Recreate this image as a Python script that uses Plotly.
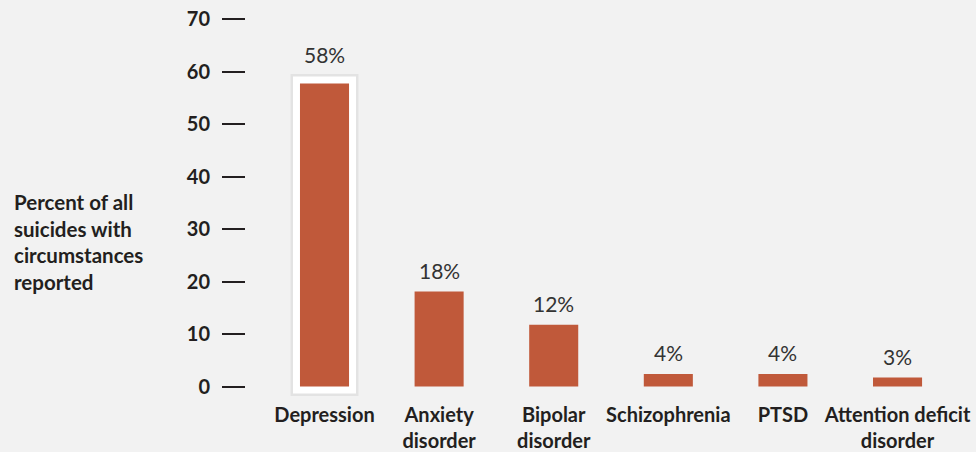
import plotly.graph_objects as go

categories = ["Depression", "Anxiety<br>disorder", "Bipolar<br>disorder", "Schizophrenia", "PTSD", "Attention deficit<br>disorder"]
bar_values = [57.8, 18.1, 11.8, 2.4, 2.4, 1.7]
value_labels = ["58%", "18%", "12%", "4%", "4%", "3%"]
highlighted = ["Depression"]
y_ticks = [0, 10, 20, 30, 40, 50, 60, 70]
y_title_lines = ["Percent of all", "suicides with", "circumstances", "reported"]

BAR_COLOR = "#c0593a"
BG = "#f2f2f2"
TEXT = "#231f20"
FONT = "Lato"
BAR_W = 0.428

hl_values = [v if c in highlighted else None for c, v in zip(categories, bar_values)]

fig = go.Figure()
# soft shadow behind highlighted frame
fig.add_trace(go.Bar(x=categories, y=hl_values, width=BAR_W,
                     marker=dict(color="rgba(0,0,0,0.06)", line=dict(color="rgba(0,0,0,0.06)", width=19)),
                     cliponaxis=False, hoverinfo="skip", showlegend=False))
# white frame
fig.add_trace(go.Bar(x=categories, y=hl_values, width=BAR_W,
                     marker=dict(color="white", line=dict(color="white", width=14)),
                     cliponaxis=False, hoverinfo="skip", showlegend=False))
# main bars
fig.add_trace(go.Bar(x=categories, y=bar_values, width=BAR_W,
                     marker=dict(color=BAR_COLOR, line=dict(width=0)),
                     cliponaxis=False, showlegend=False))

for c, v, lab in zip(categories, bar_values, value_labels):
    fig.add_annotation(x=c, y=v, text=lab, showarrow=False, yanchor="middle",
                       yshift=29 if c in highlighted else 21,
                       font=dict(family=FONT, size=21, color="#333333"))

fig.add_annotation(xref="paper", yref="y", x=-0.328, y=27.5, xanchor="left",
                   yanchor="middle", align="left", showarrow=False,
                   text="<br>".join(f"<b>{t}</b>" for t in y_title_lines),
                   font=dict(family=FONT, size=20.5, color=TEXT))

fig.update_layout(
    width=976, height=452,
    paper_bgcolor=BG, plot_bgcolor=BG,
    margin=dict(l=246, r=16, t=8.5, b=54.8, autoexpand=False),
    barmode="overlay",
    font=dict(family=FONT, color=TEXT),
)
fig.update_xaxes(
    range=[-0.685, 5.545], showgrid=False, zeroline=False, showline=False,
    automargin=False,
    ticks="", tickfont=dict(family=FONT, size=20, color=TEXT),
    tickvals=categories, ticktext=[f"<b>{c}</b>".replace("<br>", "</b><br><b>") for c in categories],
    ticklabelstandoff=4,
)
fig.update_yaxes(
    range=[-2, 72], showgrid=False, zeroline=False, showline=False,
    automargin=False,
    tickvals=y_ticks, ticktext=[f"<b>{t}</b>" for t in y_ticks],
    ticks="outside", ticklen=23, tickwidth=2, tickcolor=TEXT,
    tickfont=dict(family=FONT, size=20, color=TEXT),
    ticklabelstandoff=8,
)

fig.write_html("out.html", config={"displayModeBar": False},
               post_script="document.body.style.margin='0';document.body.style.background='#f2f2f2';")
